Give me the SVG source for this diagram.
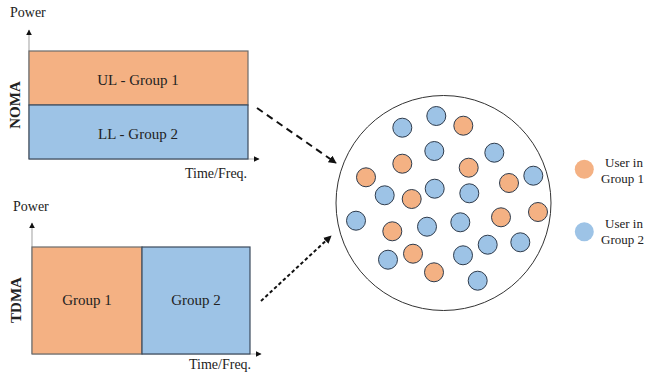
<svg xmlns="http://www.w3.org/2000/svg" width="646" height="376" viewBox="0 0 646 376">
<style>
text{font-family:"Liberation Serif","Times New Roman",serif;font-size:14px;fill:#222}
.lab{font-size:15px;text-anchor:middle}
.leg{font-size:13px}
.bold{font-weight:bold;font-size:15px;text-anchor:middle}
.or{fill:#F4B183;stroke:#6b6b6b;stroke-width:1.2}
.bl{fill:#9DC3E6;stroke:#3b4a5c;stroke-width:1.2}
.axis{stroke:#b0b0b0;stroke-width:1.2;fill:none}
.u1{fill:#F4B183;stroke:#2e3b4c;stroke-width:1}
.u2{fill:#9DC3E6;stroke:#2e3b4c;stroke-width:1}
.conn{stroke:#111;fill:none}
</style>
<defs>
<marker id="ah" viewBox="0 0 10 10" refX="9" refY="5" markerWidth="8" markerHeight="8" markerUnits="userSpaceOnUse" orient="auto">
<path d="M0,0 L10,5 L0,10 z" fill="#111"/>
</marker>
<marker id="ahs" viewBox="0 0 10 10" refX="9" refY="5" markerWidth="6" markerHeight="6" markerUnits="userSpaceOnUse" orient="auto">
<path d="M0,0 L10,5 L0,10 z" fill="#111"/>
</marker>
</defs>

<g id="noma">
<line class="axis" x1="29" y1="159" x2="29" y2="30" marker-end="url(#ahs)"/>
<line class="axis" x1="29" y1="159" x2="259" y2="159" marker-end="url(#ahs)"/>
<rect class="or" x="29" y="51" width="219" height="54"/>
<rect class="bl" x="29" y="105" width="219" height="54"/>
<text x="10" y="17">Power</text>
<text x="185" y="178">Time/Freq.</text>
<text class="lab" x="138" y="85">UL - Group 1</text>
<text class="lab" x="138" y="139">LL - Group 2</text>
<text class="bold" transform="translate(20,105) rotate(-90)">NOMA</text>
</g>

<g id="tdma">
<line class="axis" x1="32" y1="354" x2="32" y2="223" marker-end="url(#ahs)"/>
<line class="axis" x1="32" y1="354" x2="261" y2="354" marker-end="url(#ahs)"/>
<rect class="or" x="32" y="247" width="110" height="107"/>
<rect class="bl" x="142" y="247" width="108" height="107"/>
<text x="13" y="211">Power</text>
<text x="189" y="369">Time/Freq.</text>
<text class="lab" x="87" y="305">Group 1</text>
<text class="lab" x="196" y="305">Group 2</text>
<text class="bold" transform="translate(21,300) rotate(-90)">TDMA</text>
</g>

<g id="cell">
<circle cx="443.5" cy="203" r="107.5" fill="#fff" stroke="#333" stroke-width="1"/>
<circle class="u2" cx="402.3" cy="127.7" r="9.5"/>
<circle class="u2" cx="436.3" cy="116" r="9.5"/>
<circle class="u1" cx="463.3" cy="125.7" r="9.5"/>
<circle class="u2" cx="434.3" cy="151" r="9.5"/>
<circle class="u2" cx="494.3" cy="152.7" r="9.5"/>
<circle class="u1" cx="402.3" cy="163.7" r="9.5"/>
<circle class="u1" cx="468.7" cy="167.7" r="9.5"/>
<circle class="u1" cx="366" cy="177.3" r="9.5"/>
<circle class="u2" cx="533.3" cy="175.7" r="9.5"/>
<circle class="u1" cx="509" cy="183" r="9.5"/>
<circle class="u2" cx="384.7" cy="195.3" r="9.5"/>
<circle class="u1" cx="411.7" cy="199" r="9.5"/>
<circle class="u2" cx="434.7" cy="188.7" r="9.5"/>
<circle class="u2" cx="469.3" cy="193.3" r="9.5"/>
<circle class="u2" cx="356" cy="220.7" r="9.5"/>
<circle class="u1" cx="392.3" cy="231.3" r="9.5"/>
<circle class="u2" cx="427" cy="226.7" r="9.5"/>
<circle class="u2" cx="460.3" cy="222.3" r="9.5"/>
<circle class="u1" cx="501" cy="217.3" r="9.5"/>
<circle class="u1" cx="538" cy="212" r="9.5"/>
<circle class="u2" cx="487.7" cy="244.7" r="9.5"/>
<circle class="u2" cx="520.3" cy="242.3" r="9.5"/>
<circle class="u2" cx="388" cy="259.7" r="9.5"/>
<circle class="u1" cx="413" cy="253.7" r="9.5"/>
<circle class="u2" cx="463" cy="255.3" r="9.5"/>
<circle class="u1" cx="434" cy="272.3" r="9.5"/>
<circle class="u2" cx="477.7" cy="280.7" r="9.5"/>
</g>

<g id="legend-group1">
<circle cx="584.3" cy="169.3" r="9.5" fill="#F4B183"/>
<text class="leg" x="605" y="167">User in</text>
<text class="leg" x="601" y="183">Group 1</text>
</g>
<g id="legend-group2">
<circle cx="584.3" cy="231.7" r="9.5" fill="#9DC3E6"/>
<text class="leg" x="605" y="228">User in</text>
<text class="leg" x="601" y="244">Group 2</text>
</g>

<g id="connectors">
<line class="conn" x1="257" y1="108" x2="336" y2="163" stroke-width="2" stroke-dasharray="7,5" marker-end="url(#ah)"/>
<line class="conn" x1="261" y1="301" x2="331" y2="236" stroke-width="2" stroke-dasharray="3.5,2.5" marker-end="url(#ah)"/>
</g>
</svg>
